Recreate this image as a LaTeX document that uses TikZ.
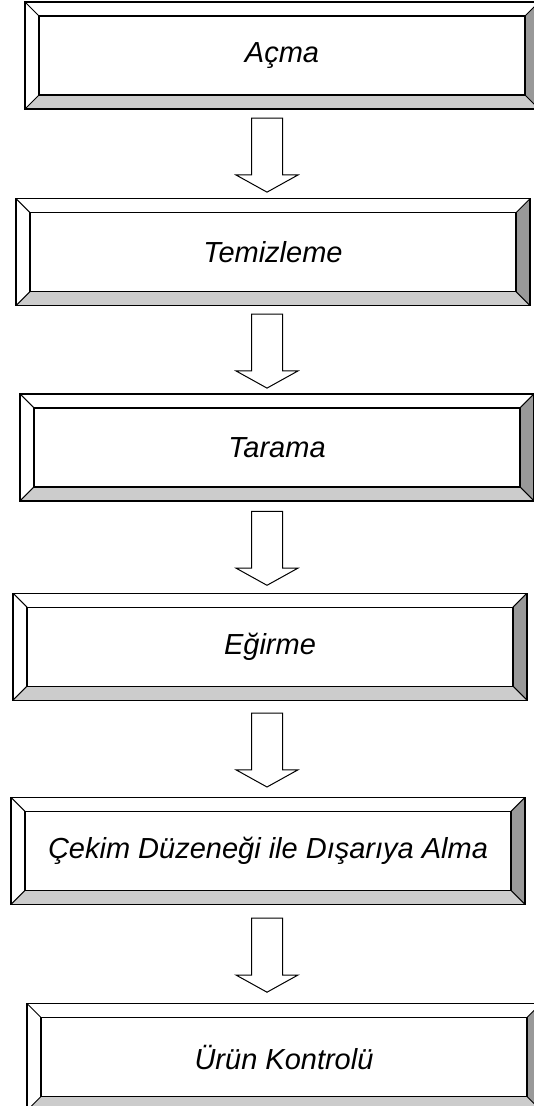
\documentclass[tikz,border=0pt]{standalone}
\usepackage{fontspec}
\setmainfont{Liberation Sans}
\usetikzlibrary{calc,positioning,shapes.arrows}
\definecolor{bevellight}{RGB}{204,204,204}
\definecolor{beveldark}{RGB}{153,153,153}

\begin{document}
\begin{tikzpicture}
  [bevelbox/.style={rectangle,draw,line width=1.2pt,fill=white,inner sep=0pt,
     minimum width=514pt,minimum height=107pt,font=\fontsize{29}{34}\selectfont\itshape,
     path picture={
       \path (path picture bounding box.south west) coordinate (pw)
             (path picture bounding box.north east) coordinate (pe);
       \fill[bevellight] (pw) -- (pw -| pe) -- ++(-14pt,14pt) -- ($(pw)+(14pt,14pt)$) -- cycle;
       \fill[beveldark] (pw -| pe) -- (pe) -- ++(-14pt,-14pt) -- ($(pw -| pe)+(-14pt,14pt)$) -- cycle;
       \draw[line width=1.2pt] ($(pw)+(14pt,14pt)$) rectangle ($(pe)+(-14pt,-14pt)$);
       \draw[line width=1pt] (pw) -- ++(14pt,14pt) (pe) -- ++(-14pt,-14pt)
             (pw |- pe) -- ++(14pt,-14pt) (pw -| pe) -- ++(-14pt,14pt);
     }},
   flowarr/.style={single arrow,draw,fill=white,line width=1pt,shape border rotate=270,
     minimum height=74pt,minimum width=61pt,inner sep=15pt,
     single arrow head extend=15.5pt,single arrow tip angle=122,single arrow head indent=0pt}]
  \useasboundingbox (0pt,0pt) rectangle (534pt,-1106pt);
  \node[bevelbox] (b1) at (282pt,-55.5pt) {Açma};
  \node[bevelbox] (b2) [below=88.5pt of b1,xshift=-9pt] {Temizleme};
  \node[bevelbox] (b3) [below=87pt of b2,xshift=4pt] {Tarama};
  \node[bevelbox] (b4) [below=91pt of b3,xshift=-7pt] {Eğirme};
  \node[bevelbox] (b5) [below=96pt of b4,xshift=-2pt] {Çekim Düzeneği ile Dışarıya Alma};
  \node[bevelbox] (b6) [below=98pt of b5,xshift=16pt] {Ürün Kontrolü};
  \coordinate (ax) at (267pt,0pt);
  \foreach \from/\to in {b1/b2,b2/b3,b3/b4,b4/b5,b5/b6}
    \path (\from.south -| ax) -- node[flowarr,yshift=3pt] {} (\to.north -| ax);
\end{tikzpicture}
\end{document}
